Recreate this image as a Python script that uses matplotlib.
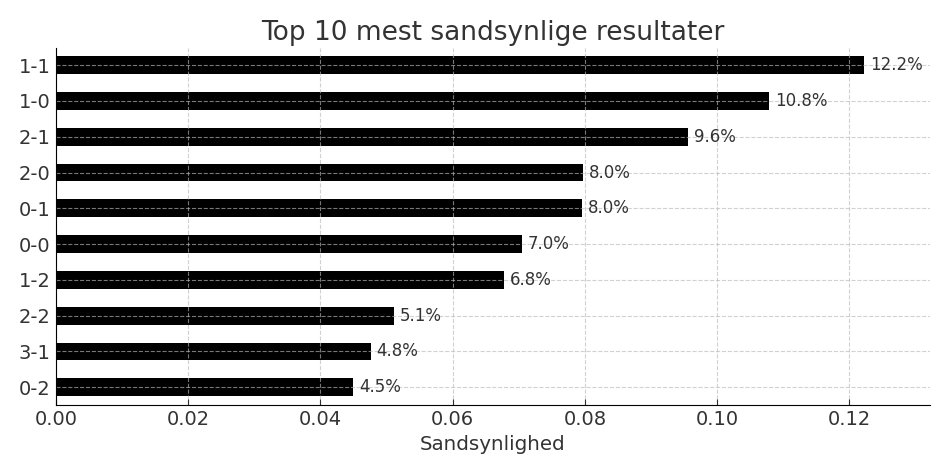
import numpy as np
import matplotlib.pyplot as plt

# Data
resultater = ["1-1", "1-0", "2-1", "2-0", "0-1", "0-0", "1-2", "2-2", "3-1", "0-2"]
sandsynlighed = [0.1222, 0.1078, 0.0956, 0.0797, 0.0795, 0.0705, 0.0677, 0.0511, 0.0476, 0.0449]

plt.rcParams['text.color'] = '#333333'
plt.rcParams['axes.labelcolor'] = '#333333'
plt.rcParams['xtick.color'] = '#333333'
plt.rcParams['ytick.color'] = '#333333'

fig, ax = plt.subplots(figsize=(9.5, 4.75), dpi=100)
fig.subplots_adjust(left=0.059, right=0.979, top=0.899, bottom=0.147)

y = np.arange(len(resultater))
ax.barh(y, sandsynlighed, height=0.5, color='black', zorder=2)
ax.set_yticks(y)
ax.set_yticklabels(resultater, fontsize=14)
ax.set_ylim(9.5, -0.48)

for yi, v in zip(y, sandsynlighed):
    ax.text(v + 0.0009, yi, f"{v*100:.1f}%", va='center', ha='left', fontsize=12)

ax.set_xlim(0, 0.1322)
ax.set_xticks([0.0, 0.02, 0.04, 0.06, 0.08, 0.10, 0.12])
ax.set_xticklabels([f"{t:.2f}" for t in [0.0, 0.02, 0.04, 0.06, 0.08, 0.10, 0.12]], fontsize=14)
ax.tick_params(axis='x', direction='in', length=4)
ax.tick_params(axis='y', length=0, pad=4)

ax.set_title("Top 10 mest sandsynlige resultater", fontsize=19)
ax.set_xlabel("Sandsynlighed", fontsize=14.3)

ax.grid(True, linestyle='--', color='#b9b9b9', alpha=0.65, linewidth=0.8, zorder=3)
ax.set_axisbelow(False)
for s in ['top', 'right']:
    ax.spines[s].set_visible(False)
for s in ['left', 'bottom']:
    ax.spines[s].set_zorder(4)

plt.savefig("out.png", dpi=100)
